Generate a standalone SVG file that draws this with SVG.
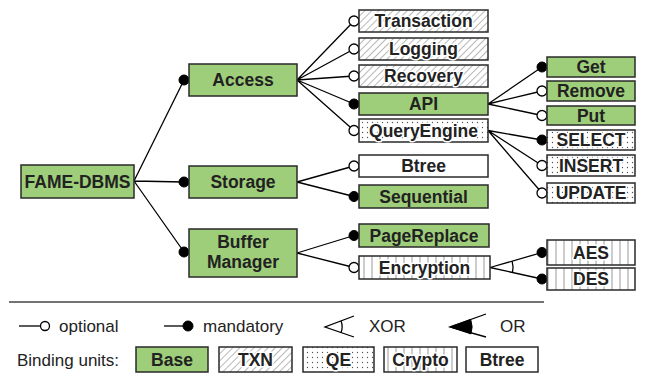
<svg xmlns="http://www.w3.org/2000/svg" width="649" height="376" viewBox="0 0 649 376">
<style>
.box{stroke:#2a2a2a;stroke-width:1.5}
.base{fill:#9fce7a}
.plain{fill:#fff}
.txn{fill:url(#hatch)}
.qe{fill:url(#dots)}
.cry{fill:url(#vstripe)}
.t{font-family:"Liberation Sans",Arial,sans-serif;font-weight:bold;font-size:17.5px;fill:#222;text-anchor:middle}
.h{paint-order:stroke;stroke:#fff;stroke-width:3;stroke-linejoin:round}
.lg{font-family:"Liberation Sans",Arial,sans-serif;font-size:17px;fill:#222}
.c{stroke:#000;stroke-width:1.3;fill:none}
.opt{fill:#fff;stroke:#000;stroke-width:1.3}
.man{fill:#000;stroke:#000;stroke-width:1}
</style>
<defs>
<pattern id="hatch" patternUnits="userSpaceOnUse" width="5" height="5" patternTransform="rotate(45)">
<rect width="5" height="5" fill="#fff"/>
<line x1="0" y1="0" x2="0" y2="5" stroke="#888" stroke-width="1.2"/>
</pattern>
<pattern id="dots" patternUnits="userSpaceOnUse" width="5" height="5">
<rect width="5" height="5" fill="#fff"/>
<circle cx="2.5" cy="2.5" r="0.7" fill="#555"/>
</pattern>
<pattern id="vstripe" patternUnits="userSpaceOnUse" width="8" height="8">
<rect width="8" height="8" fill="#fff"/>
<line x1="4" y1="0" x2="4" y2="8" stroke="#999" stroke-width="1"/>
</pattern>
</defs>

<g id="connectors">
<path class="c" d="M134,181 L184,80 M134,181 L184,182 M134,181 L184,252"/>
<path class="c" d="M297,80 L354,21 M297,80 L354,49 M297,80 L354,76 M297,80 L354,104 M297,80 L354,130.5"/>
<path class="c" d="M297,182 L354,166 M297,182 L354,196.5"/>
<path class="c" d="M297,253 L354,235.5 M297,253 L354,267.5"/>
<path class="c" d="M488,104 L542,67 M488,104 L542,91 M488,104 L542,115.5"/>
<path class="c" d="M488,130.5 L542,140 M488,130.5 L542,165.5 M488,130.5 L542,193"/>
<path class="c" d="M490,267.5 L542,252.5 M490,267.5 L542,279"/>
<path class="c" d="M512.1,261.1 A23,23 0 0 1 512.5,272.3"/>
<circle class="man" cx="184" cy="80" r="5"/>
<circle class="man" cx="184" cy="182" r="5"/>
<circle class="man" cx="184" cy="252" r="5"/>
<circle class="opt" cx="354" cy="21" r="5"/>
<circle class="opt" cx="354" cy="49" r="5"/>
<circle class="opt" cx="354" cy="76" r="5"/>
<circle class="man" cx="354" cy="104" r="5"/>
<circle class="opt" cx="354" cy="130.5" r="5"/>
<circle class="opt" cx="354" cy="166" r="5"/>
<circle class="man" cx="354" cy="196.5" r="5"/>
<circle class="man" cx="354" cy="235.5" r="5"/>
<circle class="opt" cx="354" cy="267.5" r="5"/>
<circle class="man" cx="542" cy="67" r="5"/>
<circle class="opt" cx="542" cy="91" r="5"/>
<circle class="opt" cx="542" cy="115.5" r="5"/>
<circle class="man" cx="542" cy="140" r="5"/>
<circle class="opt" cx="542" cy="165.5" r="5"/>
<circle class="opt" cx="542" cy="193" r="5"/>
<circle class="man" cx="542" cy="252.5" r="5"/>
<circle class="man" cx="542" cy="279" r="5"/>
</g>

<g id="fame-dbms"><rect class="box base" x="21" y="165" width="113" height="33"/><text class="t" x="77.5" y="187.5">FAME-DBMS</text></g>
<g id="access"><rect class="box base" x="189" y="64" width="108" height="32"/><text class="t" x="243" y="86">Access</text></g>
<g id="storage"><rect class="box base" x="189" y="166" width="108" height="32"/><text class="t" x="243" y="188">Storage</text></g>
<g id="buffer-manager"><rect class="box base" x="189" y="229" width="108" height="48"/><text class="t" x="243" y="248">Buffer</text><text class="t" x="243" y="268">Manager</text></g>

<g id="transaction"><rect class="box txn" x="359" y="10" width="129" height="22"/><text class="t h" x="423.5" y="27">Transaction</text></g>
<g id="logging"><rect class="box txn" x="359" y="38" width="129" height="22"/><text class="t h" x="423.5" y="55">Logging</text></g>
<g id="recovery"><rect class="box txn" x="359" y="65" width="129" height="22"/><text class="t h" x="423.5" y="82">Recovery</text></g>
<g id="api"><rect class="box base" x="359" y="93" width="129" height="22"/><text class="t" x="423.5" y="110">API</text></g>
<g id="queryengine"><rect class="box qe" x="359" y="119" width="129" height="23"/><text class="t h" x="423.5" y="136.5">QueryEngine</text></g>
<g id="btree"><rect class="box plain" x="359" y="155" width="129" height="22"/><text class="t" x="423.5" y="172">Btree</text></g>
<g id="sequential"><rect class="box base" x="359" y="185" width="129" height="23"/><text class="t" x="423.5" y="202.5">Sequential</text></g>
<g id="pagereplace"><rect class="box base" x="359" y="224" width="130" height="23"/><text class="t" x="424" y="241.5">PageReplace</text></g>
<g id="encryption"><rect class="box cry" x="359" y="256" width="131" height="23"/><text class="t h" x="424.5" y="273.5">Encryption</text></g>

<g id="get"><rect class="box base" x="547" y="57" width="88" height="20"/><text class="t" x="591" y="73">Get</text></g>
<g id="remove"><rect class="box base" x="547" y="81" width="88" height="20"/><text class="t" x="591" y="97">Remove</text></g>
<g id="put"><rect class="box base" x="547" y="106" width="88" height="19"/><text class="t" x="591" y="121.5">Put</text></g>
<g id="select"><rect class="box qe" x="547" y="130" width="88" height="20"/><text class="t h" x="591" y="146">SELECT</text></g>
<g id="insert"><rect class="box qe" x="547" y="155" width="88" height="21"/><text class="t h" x="591" y="171.5">INSERT</text></g>
<g id="update"><rect class="box qe" x="547" y="183" width="88" height="20"/><text class="t h" x="591" y="199">UPDATE</text></g>
<g id="aes"><rect class="box cry" x="547" y="240" width="88" height="25"/><text class="t h" x="591" y="258.5">AES</text></g>
<g id="des"><rect class="box cry" x="547" y="268" width="88" height="22"/><text class="t h" x="591" y="285">DES</text></g>

<g id="legend">
<line x1="9" y1="302" x2="544" y2="302" stroke="#444" stroke-width="1.5"/>
<line class="c" x1="19" y1="326" x2="41" y2="326"/>
<circle class="opt" cx="45" cy="326" r="4.5"/>
<text class="lg" x="59" y="332">optional</text>
<line class="c" x1="164" y1="326" x2="184" y2="326"/>
<circle class="man" cx="188" cy="326" r="5"/>
<text class="lg" x="203" y="332">mandatory</text>
<path class="c" d="M354,316 L325,327 L354,337"/>
<path class="c" d="M341,320.8 A17,17 0 0 1 341,332.8"/>
<text class="lg" x="369" y="332">XOR</text>
<path class="c" d="M486,314 L450,327 L486,337"/>
<path fill="#000" stroke="#000" stroke-width="1" d="M450,327 L470.7,319.5 A22,22 0 0 1 471,333.9 Z"/>
<text class="lg" x="500" y="332">OR</text>
<text class="lg" x="17" y="366">Binding units:</text>
<rect class="box base" x="136" y="347" width="72" height="25"/><text class="t" x="172" y="366">Base</text>
<rect class="box txn" x="219" y="347" width="73" height="25"/><text class="t h" x="255.5" y="366">TXN</text>
<rect class="box qe" x="303" y="347" width="71" height="25"/><text class="t h" x="338.5" y="366">QE</text>
<rect class="box cry" x="384" y="347" width="73" height="25"/><text class="t h" x="420.5" y="366">Crypto</text>
<rect class="box plain" x="466" y="347" width="72" height="25"/><text class="t" x="502" y="366">Btree</text>
</g>
</svg>
